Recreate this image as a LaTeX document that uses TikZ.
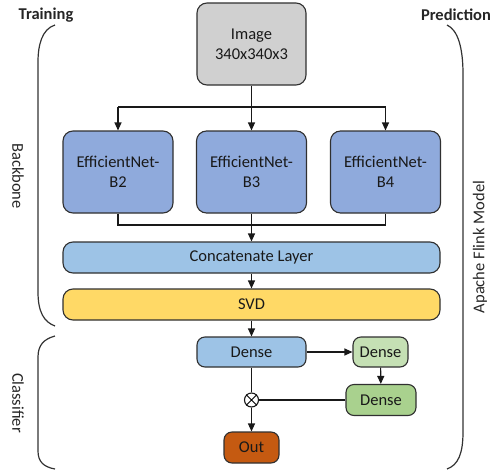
\documentclass[tikz,border=0pt]{standalone}
\usepackage{fontspec}
\setmainfont{Carlito}
\usetikzlibrary{positioning,arrows.meta}

\definecolor{imgGray}{HTML}{D0D0D0}
\definecolor{netBlue}{HTML}{8FAADC}
\definecolor{layBlue}{HTML}{9DC3E6}
\definecolor{svdYellow}{HTML}{FFD966}
\definecolor{lightGreen}{HTML}{C5E0B4}
\definecolor{midGreen}{HTML}{A9D18E}
\definecolor{outOrange}{HTML}{C55A11}
\definecolor{edgeGray}{HTML}{303030}

\tikzset{
  block/.style={draw=edgeGray, line width=1.1pt, rounded corners=10pt, inner sep=0pt,
    align=center, font=\fontsize{16.5}{20}\selectfont, text=black!90},
  small/.style={block, rounded corners=8pt},
  flow/.style={line width=1.1pt, draw=black!90, -{Triangle[length=8pt,width=7pt]}},
  link/.style={line width=1.1pt, draw=black!90},
  brace/.style={line width=1.2pt, draw=black!80},
  side/.style={font=\fontsize{16.5}{20}\selectfont, text=black!85},
}

\begin{document}
\begin{tikzpicture}[x=1pt, y=-1pt]
  \useasboundingbox (0,0) rectangle (500,471);
  % input and backbones
  \node [block, fill=imgGray, minimum width=109pt, minimum height=82pt] (img) at (251.5,44) {Image\\340x340x3};
  \node [block, fill=netBlue, minimum width=110pt, minimum height=82pt] (bTwo) at (118,172) {EfficientNet-\\B2};
  \node [block, fill=netBlue, minimum width=110pt, minimum height=82pt] (bThree) at (251.5,172) {EfficientNet-\\B3};
  \node [block, fill=netBlue, minimum width=110pt, minimum height=82pt] (bFour) at (385.5,172) {EfficientNet-\\B4};
  \node [block, fill=layBlue, minimum width=377pt, minimum height=31pt] (concat) at (251.5,257.5) {Concatenate Layer};
  \node [block, fill=svdYellow, minimum width=377pt, minimum height=31pt] (svd) at (251.5,304.5) {SVD};
  % classifier
  \node [small, fill=layBlue, minimum width=109pt, minimum height=30pt] (denseA) at (251.5,352) {Dense};
  \node [small, fill=lightGreen, minimum width=55pt, minimum height=30pt] (denseB) at (380.5,352) {Dense};
  \node [small, fill=midGreen, minimum width=70pt, minimum height=31pt] (denseC) at (381,400) {Dense};
  \node [draw=black!90, line width=1.1pt, circle, minimum size=14pt, inner sep=0pt] (mul) at (251.5,400) {};
  \draw [line width=1pt] (mul.north west) -- (mul.south east) (mul.north east) -- (mul.south west);
  \node [small, fill=outOrange, minimum width=55pt, minimum height=31pt] (out) at (251.5,447.5) {Out};

  \coordinate (split) at (251.5,107);
  \coordinate (merge) at (251.5,225);
  \draw [link] (img) -- (split);
  \draw [link] (bTwo.north |- split) -- (bFour.north |- split);
  \draw [flow] (bTwo.north |- split) -- (bTwo.north);
  \draw [flow] (split) -- (bThree.north);
  \draw [flow] (bFour.north |- split) -- (bFour.north);
  \draw [link] (bTwo.south) |- (merge);
  \draw [link] (bFour.south) |- (merge);
  \draw [link] (bThree.south) -- (merge);
  \draw [flow] (merge) -- (concat.north);
  \draw [flow] (concat) -- (svd);
  \draw [flow] (svd) -- (denseA);
  \draw [flow] (denseA) -- (denseB);
  \draw [flow] (denseB) -- (denseC);
  \draw [link] (denseC) -- (mul);
  \draw [link] (denseA) -- (mul);
  \draw [flow] (mul) -- (out);

  % brackets and labels
  \draw [brace] (55,25) .. controls (42,29) and (38,45) .. (38,62) -- (38,292) .. controls (38,312) and (44,322) .. (55,326);
  \draw [brace] (55,336) .. controls (44,339) and (38,345) .. (38,357) -- (38,451) .. controls (38,462) and (44,467) .. (55,469);
  \draw [brace] (447,25) .. controls (458,30) and (463,48) .. (463,74) -- (463,432) .. controls (463,454) and (458,465) .. (447,469);
  \node [side, font=\fontsize{16.5}{20}\selectfont\bfseries] (train) at (46,15) {Training};
  \node [side, font=\fontsize{16.5}{20}\selectfont\bfseries] (pred) at (456,15) {Prediction};
  \node [side, rotate=-90] (backbone) at (18,176) {Backbone};
  \node [side, rotate=-90] (classifier) at (18,403) {Classifier};
  \node [side, rotate=90] (flink) at (480,247) {Apache Flink Model};
\end{tikzpicture}
\end{document}
